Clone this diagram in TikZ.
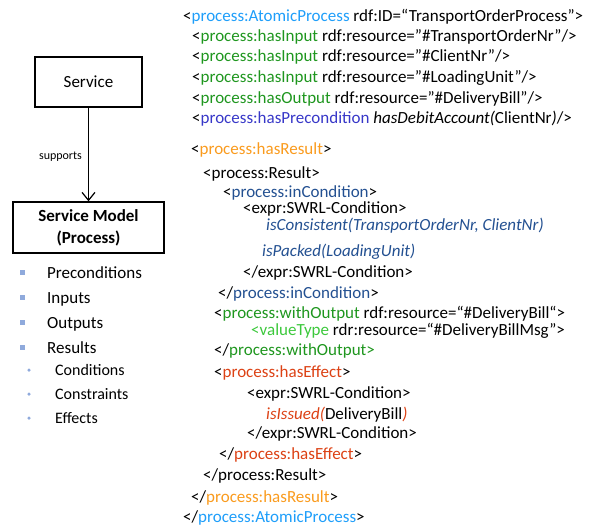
\documentclass[tikz,border=0pt]{standalone}
\usepackage{fontspec}
\setmainfont{Carlito}
\usetikzlibrary{arrows.meta}
\definecolor{cAtomic}{RGB}{30,158,250}
\definecolor{cGreen}{RGB}{30,150,30}
\definecolor{cPre}{RGB}{55,55,200}
\definecolor{cOrange}{RGB}{250,155,30}
\definecolor{cDkBlue}{RGB}{35,80,145}
\definecolor{cLtGreen}{RGB}{60,200,60}
\definecolor{cRed}{RGB}{220,65,20}
\definecolor{cBullet}{RGB}{143,170,220}
\tikzset{
  code/.style={inner sep=0pt, anchor=base west, font=\fontsize{17}{20}\selectfont},
  item/.style={inner sep=0pt, anchor=base west, font=\fontsize{17}{20}\selectfont},
  subitem/.style={inner sep=0pt, anchor=base west, font=\fontsize{16}{19}\selectfont},
  box/.style={draw, line width=1.4pt, inner sep=0pt, align=center, font=\fontsize{17}{20}\selectfont},
  sq/.style={fill=cBullet, draw=none, minimum size=5pt, inner sep=0pt},
  dot/.style={fill=cBullet, draw=none, circle, minimum size=3.5pt, inner sep=0pt},
}
\begin{document}
\begin{tikzpicture}[x=1pt,y=-1pt]
\useasboundingbox (0,0) rectangle (604,529);
% left part
\node[box, minimum width=107pt, minimum height=50pt] (service) at (88.5,82) {Service};
\node[box, minimum width=151pt, minimum height=51pt, font=\fontsize{17}{22}\selectfont\bfseries] (model) at (88.5,227.5) {Service Model\\(Process)};
\draw[line width=1.2pt, -{Straight Barb[length=8pt,width=13pt,line width=1.2pt]}] (service) -- (model) node[pos=0.52, left=6pt, font=\fontsize{12}{14}\selectfont, inner sep=0pt] (sup) {supports};
\node[sq] (b1) at (22,272) {}; \node[item] (t1) at (47,278) {Preconditions};
\node[sq] (b2) at (22,297) {}; \node[item] (t2) at (47,303) {Inputs};
\node[sq] (b3) at (22,322) {}; \node[item] (t3) at (47,328) {Outputs};
\node[sq] (b4) at (22,347) {}; \node[item] (t4) at (47,353) {Results};
\node[dot] (b5) at (29,370) {}; \node[subitem] (t5) at (55,375.5) {Conditions};
\node[dot] (b6) at (29,394) {}; \node[subitem] (t6) at (55,399.5) {Constraints};
\node[dot] (b7) at (29,418) {}; \node[subitem] (t7) at (55,423.5) {Effects};
% code
\node[code] (l1) at (183,21.5) {<\textcolor{cAtomic}{process:AtomicProcess} rdf:ID=“TransportOrderProcess">};
\node[code] (l2) at (192,41.5) {<\textcolor{cGreen}{process:hasInput} rdf:resource="\#TransportOrderNr"/>};
\node[code] (l3) at (192,62) {<\textcolor{cGreen}{process:hasInput} rdf:resource="\#ClientNr"/>};
\node[code] (l4) at (192,82.5) {<\textcolor{cGreen}{process:hasInput} rdf:resource="\#LoadingUnit"/>};
\node[code] (l5) at (192,103.5) {<\textcolor{cGreen}{process:hasOutput} rdf:resource="\#DeliveryBill"/>};
\node[code] (l6) at (192,123.5) {<\textcolor{cPre}{process:hasPrecondition} \textit{hasDebitAccount(}ClientNr\textit{)}/>};
\node[code] (l7) at (191,154.5) {<\textcolor{cOrange}{process:hasResult}>};
\node[code] (l8) at (203,178.5) {<process:Result>};
\node[code] (l9) at (223,197.5) {<\textcolor{cDkBlue}{process:inCondition}>};
\node[code] (l10) at (243,213.5) {<expr:SWRL-Condition>};
\node[code, text=cDkBlue] (l11) at (266,230.5) {\textit{isConsistent(TransportOrderNr, ClientNr)}};
\node[code, text=cDkBlue] (l12) at (262,256) {\textit{isPacked(LoadingUnit)}};
\node[code] (l13) at (243,277.5) {</expr:SWRL-Condition>};
\node[code] (l14) at (218,298.5) {</\textcolor{cDkBlue}{process:inCondition}>};
\node[code] (l15) at (214,318.5) {<\textcolor{cGreen}{process:withOutput} rdf:resource=“\#DeliveryBill“>};
\node[code] (l16) at (251,335.5) {\textcolor{cLtGreen}{<valueType} rdr:resource=“\#DeliveryBillMsg”>};
\node[code] (l17) at (214,355.5) {</\textcolor{cGreen}{process:withOutput>}};
\node[code] (l18) at (214,377.5) {<\textcolor{cRed}{process:hasEffect}>};
\node[code] (l19) at (247,398.5) {<expr:SWRL-Condition>};
\node[code] (l20) at (266,419.5) {\textcolor{cRed}{\textit{isIssued(}}DeliveryBill\textcolor{cRed}{\textit{)}}};
\node[code] (l21) at (247,438.5) {</expr:SWRL-Condition>};
\node[code] (l22) at (219,459.5) {</\textcolor{cRed}{process:hasEffect}>};
\node[code] (l23) at (203,480.5) {</process:Result>};
\node[code] (l24) at (191,502.5) {</\textcolor{cOrange}{process:hasResult}>};
\node[code] (l25) at (183,522.5) {</\textcolor{cAtomic}{process:AtomicProcess}>};
\end{tikzpicture}
\end{document}
